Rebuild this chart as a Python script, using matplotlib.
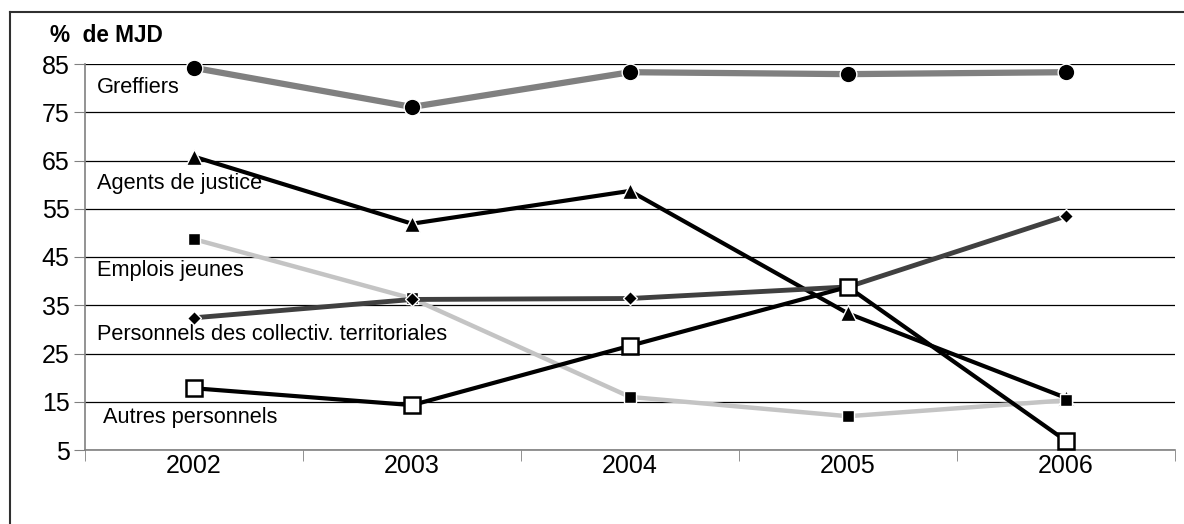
import matplotlib.pyplot as plt
from matplotlib.lines import Line2D

# ==============================
# DONNÉES
# ==============================
annees = ["2002", "2003", "2004", "2005", "2006"]

greffiers = [84.2, 76.1, 83.3, 82.9, 83.3]
agents_justice = [65.8, 51.9, 58.7, 33.3, 15.8]
emplois_jeunes = [48.7, 36.4, 16.0, 12.0, 15.3]
collectiv_territoriales = [32.4, 36.2, 36.4, 38.8, 53.5]
autres_personnels = [17.8, 14.3, 26.6, 38.8, 6.9]

y_ticks = [5, 15, 25, 35, 45, 55, 65, 75, 85]

plt.rcParams["font.family"] = ["Liberation Sans", "DejaVu Sans"]

fig = plt.figure(figsize=(11.84, 5.24), dpi=100)
ax = fig.add_axes([85 / 1184, 1 - 450 / 524, 1090 / 1184, 386 / 524])

x = list(range(len(annees)))

# ordre de tracé = ordre de superposition
ax.plot(x, greffiers, color="#808080", lw=4.5, marker="o", ms=12,
        mfc="black", mec="white", mew=1, zorder=3, clip_on=False)
ax.plot(x, agents_justice, color="black", lw=3, marker="^", ms=11,
        mfc="black", mec="white", mew=1, zorder=4, clip_on=False)
ax.plot(x, emplois_jeunes, color="#c4c4c4", lw=3.2, marker="s", ms=8,
        mfc="black", mec="white", mew=1, zorder=5, clip_on=False)
ax.plot(x, collectiv_territoriales, color="#404040", lw=3.5, marker="D", ms=7,
        mfc="black", mec="white", mew=1, zorder=6, clip_on=False)
ax.plot(x, autres_personnels, color="black", lw=3, marker="s", ms=11,
        mfc="white", mec="black", mew=1.8, zorder=7, clip_on=False)

# ==============================
# AXES
# ==============================
ax.set_xlim(-0.5, len(annees) - 0.5)
ax.set_ylim(5, 85)
ax.set_yticks(y_ticks)
ax.set_yticklabels([str(v) for v in y_ticks], fontsize=18)
ax.set_xticks(x)
ax.set_xticklabels(annees, fontsize=18)
ax.tick_params(axis="x", length=0, pad=3)
ax.set_xticks([i - 0.5 for i in range(len(annees) + 1)], minor=True)
ax.tick_params(axis="x", which="minor", length=8, color="#808080", direction="out")
ax.tick_params(axis="y", length=8, color="#808080", pad=3)

ax.grid(axis="y", color="black", lw=0.9)
ax.set_axisbelow(True)
for s in ["top", "right"]:
    ax.spines[s].set_visible(False)
ax.spines["left"].set_color("#808080")
ax.spines["bottom"].set_color("#808080")
ax.spines["left"].set_linewidth(1.2)
ax.spines["bottom"].set_linewidth(1.2)

# ==============================
# ÉTIQUETTES DES SÉRIES
# ==============================
lbl = dict(fontsize=15.7, va="center", ha="left", zorder=2)
ax.text(-0.445, 80.2, "Greffiers", **lbl)
ax.text(-0.445, 60.2, "Agents de justice", **lbl)
ax.text(-0.445, 42.3, "Emplois jeunes", **lbl)
ax.text(-0.445, 28.9, "Personnels des collectiv. territoriales", **lbl)
ax.text(-0.418, 11.7, "Autres personnels", **lbl)

fig.text(50 / 1184, 1 - 35 / 524, "%  de MJD", fontsize=16.3, fontweight="bold",
         va="center", ha="left")

# cadre
fig.add_artist(Line2D([10 / 1184, 10 / 1184], [0, 1 - 12 / 524],
                      color="#303030", lw=1.5, transform=fig.transFigure))
fig.add_artist(Line2D([10 / 1184, 1], [1 - 12 / 524, 1 - 12 / 524],
                      color="#303030", lw=1.5, transform=fig.transFigure))

fig.savefig("out.png", dpi=100)
